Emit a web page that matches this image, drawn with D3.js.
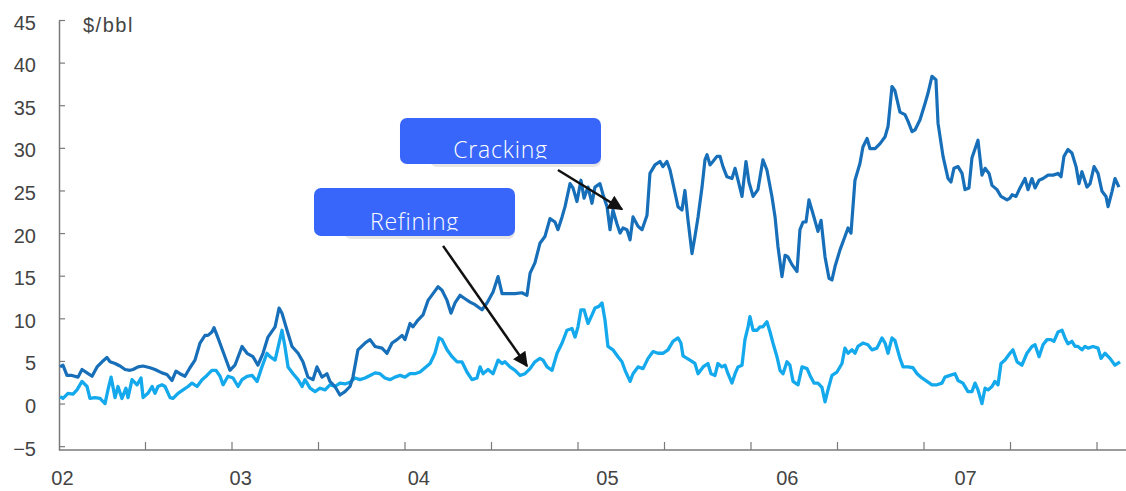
<!DOCTYPE html>
<html>
<head>
<meta charset="utf-8">
<script src="https://cdn.jsdelivr.net/npm/d3@7"></script>
<style>
  body { margin: 0; background: #fff; }
  svg { display: block; }
</style>
</head>
<body>
<div id="chart"></div>
<script>
// time is in years after Jan 2002, values in $/bbl
const cracking = [
  [0.006,4.3],[0.023,4.5],[0.046,3.3],[0.075,3.3],[0.110,3.1],[0.133,4.0],[0.162,3.6],[0.191,3.2],
  [0.220,4.3],[0.249,4.9],[0.277,5.4],[0.295,4.9],[0.324,4.7],[0.353,4.4],[0.382,4.0],[0.410,3.9],
  [0.428,4.0],[0.457,4.3],[0.486,4.4],[0.526,4.2],[0.555,4.0],[0.595,3.6],[0.624,3.4],[0.653,2.7],
  [0.676,3.8],[0.699,3.5],[0.728,3.2],[0.757,4.2],[0.786,5.1],[0.815,7.1],[0.844,8.0],[0.861,8.0],
  [0.884,8.4],[0.896,8.9],[0.919,7.7],[0.948,6.1],[0.988,3.9],[1.017,4.5],[1.058,6.7],[1.087,5.9],
  [1.121,5.5],[1.150,4.5],[1.179,5.9],[1.208,7.8],[1.249,9.0],[1.272,11.2],[1.289,10.6],[1.318,8.6],
  [1.347,6.7],[1.382,5.9],[1.410,4.9],[1.439,3.1],[1.468,2.8],[1.491,4.3],[1.520,3.1],[1.549,3.5],
  [1.566,2.6],[1.595,2.0],[1.624,1.0],[1.653,1.4],[1.682,2.0],[1.699,3.1],[1.728,6.3],[1.769,7.1],
  [1.798,7.5],[1.827,6.7],[1.867,6.5],[1.896,5.9],[1.925,7.1],[1.954,7.5],[1.983,8.0],[2.000,7.5],
  [2.029,9.4],[2.046,9.0],[2.075,9.8],[2.104,10.4],[2.133,12.1],[2.162,12.9],[2.191,13.7],[2.214,13.3],
  [2.243,12.1],[2.266,10.6],[2.289,11.8],[2.318,12.7],[2.347,12.3],[2.376,11.9],[2.405,11.6],[2.445,11.0],
  [2.474,11.8],[2.509,13.1],[2.538,14.9],[2.561,12.9],[2.595,12.9],[2.636,12.9],[2.676,13.0],[2.705,12.7],
  [2.723,15.3],[2.751,16.5],[2.780,18.8],[2.809,19.6],[2.838,21.7],[2.867,21.3],[2.884,20.4],[2.908,21.9],
  [2.925,23.1],[2.954,25.8],[2.971,25.3],[2.994,23.7],[3.017,26.2],[3.035,24.1],[3.058,25.4],[3.081,23.5],
  [3.098,25.4],[3.127,25.8],[3.145,24.5],[3.168,23.1],[3.185,20.4],[3.202,22.7],[3.225,21.1],[3.243,20.0],
  [3.260,20.6],[3.283,20.4],[3.301,19.2],[3.318,21.9],[3.347,20.8],[3.370,20.4],[3.399,22.1],[3.416,27.0],
  [3.445,28.0],[3.474,28.4],[3.491,27.8],[3.514,28.4],[3.532,27.4],[3.561,24.7],[3.578,23.1],[3.601,22.7],
  [3.618,25.0],[3.636,21.5],[3.659,17.6],[3.676,19.6],[3.694,21.9],[3.717,25.4],[3.734,28.6],[3.746,29.2],
  [3.763,28.0],[3.780,28.4],[3.803,29.0],[3.821,29.0],[3.838,27.8],[3.861,26.6],[3.890,26.4],[3.908,27.6],
  [3.925,26.2],[3.948,24.3],[3.971,28.4],[3.988,26.0],[4.012,24.3],[4.040,25.1],[4.069,28.6],[4.092,27.4],
  [4.121,24.3],[4.139,21.9],[4.156,18.4],[4.179,14.9],[4.197,17.4],[4.214,17.2],[4.237,16.3],[4.266,15.5],
  [4.283,20.4],[4.301,21.3],[4.318,21.3],[4.335,23.9],[4.358,22.3],[4.387,20.2],[4.405,21.5],[4.428,17.2],
  [4.451,14.7],[4.468,14.5],[4.486,16.1],[4.514,18.0],[4.543,19.6],[4.561,20.6],[4.578,20.0],[4.601,26.2],
  [4.630,28.2],[4.647,30.1],[4.671,31.1],[4.688,29.9],[4.717,29.9],[4.746,30.5],[4.775,31.3],[4.792,32.5],
  [4.815,37.2],[4.832,36.7],[4.861,34.2],[4.890,33.9],[4.908,33.1],[4.931,31.9],[4.948,32.1],[4.977,33.3],
  [5.006,35.2],[5.023,36.4],[5.046,38.4],[5.069,38.0],[5.081,32.9],[5.110,29.0],[5.139,26.4],[5.156,26.0],
  [5.173,27.6],[5.197,27.8],[5.220,27.0],[5.237,25.1],[5.260,25.3],[5.277,28.8],[5.312,30.9],[5.335,26.8],
  [5.353,27.6],[5.376,27.0],[5.393,25.6],[5.422,25.1],[5.445,24.3],[5.480,23.9],[5.497,24.1],[5.509,24.5],
  [5.532,24.3],[5.555,25.3],[5.584,26.4],[5.601,25.1],[5.624,26.4],[5.642,25.3],[5.665,26.2],[5.688,26.4],
  [5.717,26.8],[5.746,26.8],[5.775,27.0],[5.792,26.6],[5.809,29.0],[5.832,29.8],[5.855,29.4],[5.879,27.8],
  [5.896,25.8],[5.913,27.2],[5.942,25.4],[5.960,25.8],[5.983,27.8],[6.006,27.0],[6.029,24.9],[6.052,24.3],
  [6.064,23.1],[6.087,24.9],[6.104,26.4],[6.127,25.4]
];

const refining = [
  [0.006,0.8],[0.023,0.6],[0.052,1.2],[0.081,1.1],[0.104,1.6],[0.133,2.6],[0.162,2.0],[0.179,0.6],
  [0.208,0.7],[0.237,0.6],[0.266,0.0],[0.283,1.6],[0.301,3.1],[0.324,0.7],[0.341,2.0],[0.364,0.6],
  [0.387,1.8],[0.399,0.7],[0.422,2.8],[0.451,2.2],[0.474,3.0],[0.486,0.7],[0.514,1.2],[0.538,2.0],
  [0.555,1.2],[0.572,2.0],[0.595,2.2],[0.613,2.0],[0.642,0.7],[0.659,0.6],[0.688,1.2],[0.717,1.6],
  [0.746,2.0],[0.769,2.4],[0.798,2.0],[0.827,2.8],[0.855,3.3],[0.884,3.9],[0.908,3.9],[0.931,3.2],
  [0.948,2.2],[0.977,3.2],[1.006,3.0],[1.035,2.0],[1.058,2.8],[1.087,3.2],[1.116,3.3],[1.145,2.6],
  [1.173,4.3],[1.202,5.9],[1.220,5.5],[1.249,5.1],[1.272,7.1],[1.289,8.6],[1.306,6.7],[1.324,4.3],
  [1.353,3.5],[1.382,2.8],[1.405,2.0],[1.422,2.8],[1.451,1.8],[1.480,1.4],[1.509,1.8],[1.538,1.6],
  [1.566,2.2],[1.595,2.0],[1.624,2.4],[1.653,2.3],[1.682,2.5],[1.711,3.0],[1.740,2.8],[1.769,3.0],
  [1.798,3.3],[1.827,3.6],[1.855,3.5],[1.884,3.0],[1.913,2.8],[1.942,3.1],[1.971,3.3],[2.000,3.1],
  [2.029,3.5],[2.058,3.5],[2.087,3.7],[2.116,4.2],[2.145,4.7],[2.173,5.9],[2.197,7.7],[2.214,7.5],
  [2.243,6.3],[2.272,5.5],[2.301,4.9],[2.329,4.9],[2.358,3.7],[2.387,2.8],[2.416,3.0],[2.434,4.3],
  [2.451,3.5],[2.480,4.0],[2.509,3.5],[2.538,5.1],[2.561,4.7],[2.578,4.9],[2.607,4.3],[2.636,3.9],
  [2.665,3.3],[2.694,3.5],[2.723,4.1],[2.751,4.9],[2.780,5.3],[2.798,5.1],[2.821,4.3],[2.850,3.9],
  [2.879,5.9],[2.908,7.1],[2.936,8.6],[2.965,8.8],[2.983,7.8],[3.000,9.0],[3.017,11.0],[3.035,11.0],
  [3.058,9.4],[3.081,10.4],[3.098,11.2],[3.121,11.4],[3.139,11.8],[3.156,9.8],[3.173,6.7],[3.202,6.3],
  [3.231,5.5],[3.254,4.9],[3.272,3.9],[3.301,2.6],[3.318,3.5],[3.347,4.3],[3.376,4.1],[3.405,5.3],
  [3.434,6.1],[3.462,5.9],[3.491,5.9],[3.520,6.3],[3.549,7.3],[3.578,7.7],[3.595,7.1],[3.607,5.6],
  [3.647,5.1],[3.676,4.7],[3.694,3.5],[3.723,4.3],[3.751,4.7],[3.769,3.5],[3.792,3.3],[3.809,4.7],
  [3.832,4.3],[3.850,4.5],[3.867,3.5],[3.890,2.4],[3.908,3.5],[3.925,4.3],[3.948,4.5],[3.965,7.5],
  [3.983,9.0],[3.994,10.2],[4.012,8.6],[4.035,8.6],[4.052,9.0],[4.069,9.0],[4.092,9.6],[4.110,8.4],
  [4.127,7.1],[4.150,5.5],[4.168,3.9],[4.185,3.5],[4.208,4.9],[4.225,4.5],[4.243,2.6],[4.272,2.2],
  [4.295,4.3],[4.324,4.1],[4.341,3.3],[4.364,2.4],[4.387,2.4],[4.410,1.9],[4.428,0.2],[4.445,1.6],
  [4.468,3.3],[4.497,3.7],[4.526,4.7],[4.543,6.5],[4.561,5.9],[4.584,6.3],[4.601,5.9],[4.618,6.7],
  [4.647,7.1],[4.676,6.9],[4.699,6.3],[4.728,6.5],[4.757,7.7],[4.775,7.1],[4.792,5.9],[4.815,7.7],
  [4.832,7.4],[4.861,5.3],[4.879,4.3],[4.908,4.3],[4.936,4.2],[4.960,3.5],[4.988,3.0],[5.017,2.6],
  [5.046,2.2],[5.075,2.2],[5.104,2.4],[5.121,3.1],[5.150,3.3],[5.179,3.5],[5.197,2.7],[5.225,2.4],
  [5.254,1.4],[5.277,1.4],[5.295,2.4],[5.312,1.6],[5.335,0.0],[5.353,1.8],[5.370,1.6],[5.393,2.0],
  [5.410,2.6],[5.428,2.2],[5.445,4.7],[5.468,5.1],[5.497,5.9],[5.514,6.3],[5.538,4.9],[5.566,4.5],
  [5.595,5.9],[5.624,6.7],[5.642,6.9],[5.665,5.5],[5.688,6.9],[5.711,7.5],[5.734,7.5],[5.751,7.3],
  [5.775,8.4],[5.798,8.6],[5.815,7.7],[5.832,7.0],[5.855,7.3],[5.873,6.7],[5.890,6.7],[5.913,6.3],
  [5.931,6.7],[5.948,6.5],[5.977,6.7],[6.006,6.5],[6.023,5.3],[6.046,5.9],[6.075,5.3],[6.104,4.5],
  [6.133,4.9]
];

const yTicks = [45, 40, 35, 30, 25, 20, 15, 10, 5, 0, -5];
const xTicks = [0.5, 1, 1.5, 2, 2.5, 3, 3.5, 4, 4.5, 5, 5.5, 6];
const yearLabels = ["02", "03", "04", "05", "06", "07"];
const yearLabelAt = [0.02, 1.05, 2.08, 3.17, 4.21, 5.24];

// callouts: box [t0, t1, vTop, vBottom], arrow [tStart, vStart, tEnd, vEnd]
const callouts = [
  { text: "Cracking", box: [1.971, 3.133, 33.5, 28.1], arrow: [2.884, 27.4, 3.254, 22.8] },
  { text: "Refining", box: [1.474, 2.636, 25.3, 19.65], arrow: [2.220, 18.5, 2.705, 4.4] }
];

const W = 1126, H = 491;
const margin = { top: 20, left: 59 };
const width = W - margin.left;
const height = 430;

const svg = d3.select("#chart").append("svg")
  .attr("width", W)
  .attr("height", H);

const defs = svg.append("defs");
defs.append("marker")
  .attr("id", "arrow")
  .attr("markerUnits", "userSpaceOnUse")
  .attr("viewBox", "0 0 10 10")
  .attr("refX", 9).attr("refY", 5)
  .attr("markerWidth", 17).attr("markerHeight", 15)
  .attr("orient", "auto")
  .append("path")
  .attr("d", "M0,0 L10,5 L0,10 z")
  .attr("fill", "#111");

const g = svg.append("g")
  .attr("transform", `translate(${margin.left},${margin.top})`);

const x = d3.scaleLinear().domain([0, 6]).range([0, 1038]);
const y = d3.scaleLinear().domain([-5.45, 45]).range([height, 0]);

const axisColor = "#7a7a7a";
const labelFont = "'Liberation Sans', Arial, sans-serif";

// left axis, ticks pointing into the plot
const yAxis = g.append("g")
  .call(d3.axisLeft(y).tickValues(yTicks).tickSizeInner(-6).tickSizeOuter(0).tickPadding(23)
    .tickFormat(d => d < 0 ? "\u2212" + Math.abs(d) : d));
yAxis.select(".domain").attr("stroke", axisColor).attr("stroke-width", 1.5);
yAxis.selectAll(".tick line").attr("stroke", axisColor).attr("stroke-width", 1.2);
yAxis.selectAll(".tick text")
  .attr("fill", "#444")
  .attr("dy", "0.45em")
  .style("font-family", labelFont)
  .style("font-size", "20px");

// bottom axis
g.append("line")
  .attr("x1", 0).attr("x2", width)
  .attr("y1", height).attr("y2", height)
  .attr("stroke", axisColor).attr("stroke-width", 1.5);

g.selectAll(".xtick")
  .data(xTicks)
  .enter().append("line")
  .attr("class", "xtick")
  .attr("x1", d => x(d)).attr("x2", d => x(d))
  .attr("y1", height).attr("y2", height - 8)
  .attr("stroke", axisColor).attr("stroke-width", 1.2);

g.selectAll(".year")
  .data(yearLabels)
  .enter().append("text")
  .attr("class", "year")
  .attr("x", (d, i) => x(yearLabelAt[i]))
  .attr("y", height + 35)
  .attr("text-anchor", "middle")
  .attr("fill", "#444")
  .style("font-family", labelFont)
  .style("font-size", "20px")
  .text(d => d);

// unit label
g.append("text")
  .attr("x", 24)
  .attr("y", 12)
  .attr("fill", "#444")
  .style("font-family", labelFont)
  .style("font-size", "20px")
  .style("letter-spacing", "1.5px")
  .text("$/bbl");

// lines
const line = d3.line()
  .x(d => x(d[0]))
  .y(d => y(d[1]));

g.append("path")
  .datum(refining)
  .attr("fill", "none")
  .attr("stroke", "#14a9ec")
  .attr("stroke-width", 3.3)
  .attr("stroke-linejoin", "round")
  .attr("d", line);

g.append("path")
  .datum(cracking)
  .attr("fill", "none")
  .attr("stroke", "#176fb9")
  .attr("stroke-width", 3.2)
  .attr("stroke-linejoin", "round")
  .attr("d", line);

// callout boxes and arrows
callouts.forEach((c, i) => {
  const [t0, t1, vTop, vBot] = c.box;
  const bx = x(t0), bw = x(t1) - x(t0);
  const by = y(vTop), bh = y(vBot) - y(vTop);

  g.append("rect")
    .attr("x", bx + 30).attr("y", by + 3)
    .attr("width", bw - 30).attr("height", bh)
    .attr("rx", 7)
    .attr("fill", "#e6e6e6");

  g.append("rect")
    .attr("x", bx).attr("y", by)
    .attr("width", bw).attr("height", bh)
    .attr("rx", 7)
    .attr("fill", "#3866fb");

  const base = by + bh - 6;
  defs.append("clipPath")
    .attr("id", "clip" + i)
    .append("rect")
    .attr("x", bx).attr("y", by)
    .attr("width", bw).attr("height", base + 1 - by);

  g.append("text")
    .attr("x", bx + bw / 2)
    .attr("y", base)
    .attr("text-anchor", "middle")
    .attr("fill", "#fff")
    .attr("clip-path", `url(#clip${i})`)
    .style("font-family", "'Open Sans', 'Noto Sans', sans-serif")
    .style("font-weight", 300)
    .style("font-size", "23px")
    .style("letter-spacing", "0.8px")
    .text(c.text);

  const [ts, vs, te, ve] = c.arrow;
  g.append("line")
    .attr("x1", x(ts)).attr("y1", y(vs))
    .attr("x2", x(te)).attr("y2", y(ve))
    .attr("stroke", "#111")
    .attr("stroke-width", 2.5)
    .attr("marker-end", "url(#arrow)");
});
</script>
</body>
</html>
